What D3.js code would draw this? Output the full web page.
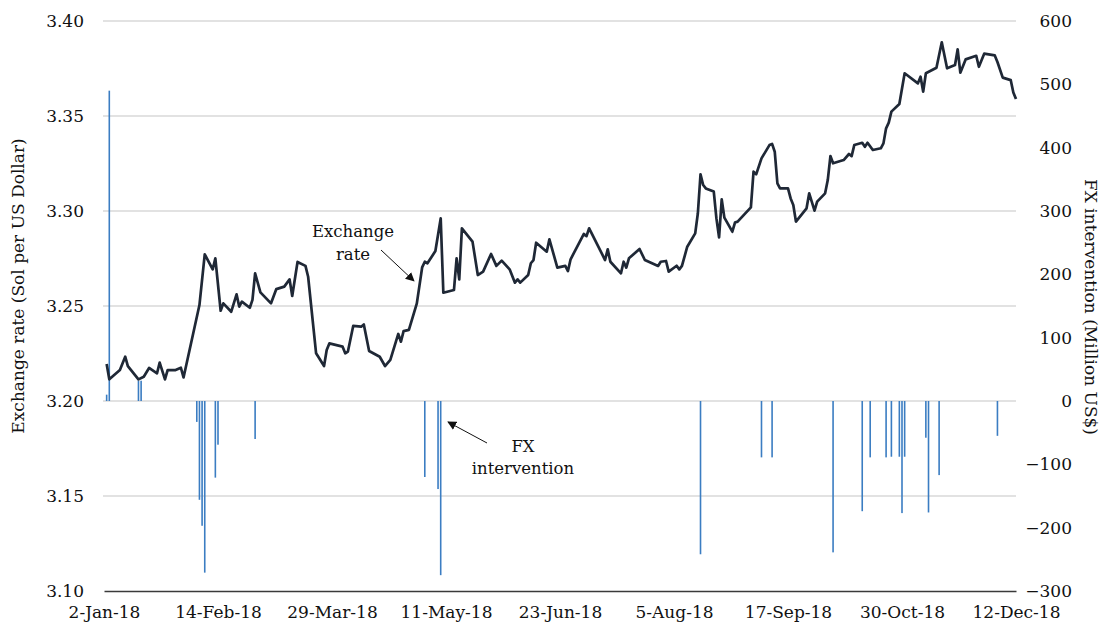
<!DOCTYPE html>
<html>
<head>
<meta charset="utf-8">
<script src="https://cdn.jsdelivr.net/npm/d3@7"></script>
<style>
  body { margin: 0; background: #fff; }
  text { font-family: "DejaVu Serif", serif; fill: #111; }
</style>
</head>
<body>
<div id="chart"></div>
<script>
// exchange rate, sol per US dollar
const rateDates = [
  "2018-01-03","2018-01-04","2018-01-08","2018-01-10","2018-01-11","2018-01-15","2018-01-17","2018-01-19",
  "2018-01-22","2018-01-23","2018-01-25","2018-01-26","2018-01-29","2018-01-31","2018-02-01","2018-02-07",
  "2018-02-09","2018-02-12","2018-02-13","2018-02-15","2018-02-16","2018-02-19","2018-02-21","2018-02-22",
  "2018-02-23","2018-02-26","2018-02-27","2018-02-28","2018-03-02","2018-03-06","2018-03-08","2018-03-11",
  "2018-03-13","2018-03-14","2018-03-16","2018-03-19","2018-03-20","2018-03-23","2018-03-26","2018-03-27",
  "2018-03-28","2018-04-02","2018-04-03","2018-04-04","2018-04-06","2018-04-09","2018-04-10","2018-04-12",
  "2018-04-16","2018-04-18","2018-04-20","2018-04-23","2018-04-24","2018-04-25","2018-04-27","2018-04-30",
  "2018-05-02","2018-05-03","2018-05-04","2018-05-07","2018-05-09","2018-05-10","2018-05-14","2018-05-15",
  "2018-05-16","2018-05-17","2018-05-21","2018-05-23","2018-05-25","2018-05-28","2018-05-30","2018-06-01",
  "2018-06-04","2018-06-06","2018-06-07","2018-06-08","2018-06-11","2018-06-12","2018-06-13","2018-06-14",
  "2018-06-18","2018-06-19","2018-06-22","2018-06-25","2018-06-26","2018-06-27","2018-07-02","2018-07-03",
  "2018-07-04","2018-07-10","2018-07-11","2018-07-12","2018-07-16","2018-07-17","2018-07-18","2018-07-19",
  "2018-07-23","2018-07-25","2018-07-30","2018-07-31","2018-08-02","2018-08-03","2018-08-06","2018-08-07",
  "2018-08-08","2018-08-10","2018-08-13","2018-08-14","2018-08-15","2018-08-16","2018-08-17","2018-08-20",
  "2018-08-21","2018-08-22","2018-08-23","2018-08-24","2018-08-27","2018-08-28","2018-08-29","2018-09-03",
  "2018-09-04","2018-09-05","2018-09-07","2018-09-10","2018-09-11","2018-09-12","2018-09-13","2018-09-14",
  "2018-09-17","2018-09-18","2018-09-19","2018-09-20","2018-09-24","2018-09-25","2018-09-27","2018-09-28",
  "2018-10-01","2018-10-02","2018-10-03","2018-10-04","2018-10-08","2018-10-10","2018-10-11","2018-10-12",
  "2018-10-15","2018-10-16","2018-10-17","2018-10-19","2018-10-22","2018-10-23","2018-10-24","2018-10-25",
  "2018-10-26","2018-10-29","2018-10-31","2018-11-05","2018-11-06","2018-11-07","2018-11-08","2018-11-12",
  "2018-11-14","2018-11-16","2018-11-19","2018-11-20","2018-11-21","2018-11-23","2018-11-27","2018-11-28",
  "2018-11-30","2018-12-04","2018-12-05","2018-12-07","2018-12-10","2018-12-11","2018-12-12"
];
const rateValues = [
  3.2195,3.2114,3.2163,3.2233,3.2184,3.2114,3.2128,3.2174,
  3.2146,3.2202,3.2114,3.2163,3.2163,3.2175,3.2124,3.2505,
  3.2772,3.2693,3.2751,3.2475,3.2514,3.2470,3.2561,3.2497,
  3.2523,3.2491,3.2532,3.2672,3.2572,3.2514,3.2589,3.2602,
  3.2640,3.2553,3.2732,3.2711,3.2654,3.2251,3.2184,3.2268,
  3.2303,3.2286,3.2251,3.2260,3.2395,3.2391,3.2403,3.2263,
  3.2233,3.2184,3.2216,3.2353,3.2312,3.2368,3.2374,3.2514,
  3.2703,3.2733,3.2725,3.2789,3.2961,3.2570,3.2584,3.2751,
  3.2640,3.2909,3.2839,3.2663,3.2681,3.2774,3.2711,3.2739,
  3.2693,3.2623,3.2640,3.2623,3.2663,3.2725,3.2742,3.2833,
  3.2786,3.2851,3.2702,3.2711,3.2684,3.2746,3.2879,3.2868,
  3.2909,3.2742,3.2798,3.2733,3.2672,3.2733,3.2702,3.2751,
  3.2800,3.2742,3.2711,3.2733,3.2737,3.2681,3.2712,3.2693,
  3.2711,3.2812,3.2882,3.2988,3.3193,3.3137,3.3119,3.3102,
  3.2961,3.2861,3.3061,3.2965,3.2891,3.2939,3.2944,3.3019,
  3.3207,3.3193,3.3277,3.3347,3.3353,3.3312,3.3146,3.3119,
  3.3119,3.3066,3.3032,3.2944,3.3014,3.3093,3.3002,3.3049,
  3.3093,3.3163,3.3289,3.3251,3.3268,3.3300,3.3289,3.3347,
  3.3359,3.3338,3.3359,3.3321,3.3330,3.3356,3.3435,3.3465,
  3.3523,3.3563,3.3725,3.3672,3.3707,3.3628,3.3725,3.3754,
  3.3888,3.3751,3.3768,3.3851,3.3728,3.3798,3.3817,3.3759,
  3.3828,3.3819,3.3784,3.3702,3.3689,3.3624,3.3589
];

// FX intervention, million US$
const fxDates = [
  "2018-01-03","2018-01-04","2018-01-15","2018-01-16","2018-02-06","2018-02-07","2018-02-08","2018-02-09",
  "2018-02-13","2018-02-14","2018-02-28","2018-05-03","2018-05-08","2018-05-09","2018-08-15","2018-09-07",
  "2018-09-11","2018-10-04","2018-10-15","2018-10-18","2018-10-24","2018-10-26","2018-10-29","2018-10-30",
  "2018-10-31","2018-11-08","2018-11-09","2018-11-13","2018-12-05"
];
const fxValues = [
  10,490,32,32,-33,-156,-197,-271,
  -121,-69,-60,-120,-139,-275,-242,-89,
  -89,-239,-174,-89,-89,-88,-88,-177,
  -88,-58,-176,-117,-55
];

const xTickDates = ["2018-01-02","2018-02-14","2018-03-29","2018-05-11","2018-06-23","2018-08-05","2018-09-17","2018-10-30","2018-12-12"];
const leftTicks = [3.10, 3.15, 3.20, 3.25, 3.30, 3.35, 3.40];
const rightTicks = [-300, -200, -100, 0, 100, 200, 300, 400, 500, 600];

const width = 1102, height = 623;
const margin = { top: 21, right: 86, bottom: 32, left: 104 };
const parse = d3.timeParse("%Y-%m-%d");

const rate = rateDates.map((d, i) => ({ date: parse(d), v: rateValues[i] }));
const fx = fxDates.map((d, i) => ({ date: parse(d), v: fxValues[i] }));

const svg = d3.select("#chart").append("svg")
  .attr("width", width)
  .attr("height", height);

const x = d3.scaleTime()
  .domain([parse(xTickDates[0]), parse(xTickDates[xTickDates.length - 1])])
  .range([margin.left, width - margin.right]);

const yLeft = d3.scaleLinear()
  .domain([3.10, 3.40])
  .range([height - margin.bottom, margin.top]);

const yRight = d3.scaleLinear()
  .domain([-300, 600])
  .range([height - margin.bottom, margin.top]);

// gridlines
svg.append("g")
  .selectAll("line")
  .data(leftTicks.slice(1))
  .join("line")
  .attr("x1", margin.left - 1)
  .attr("x2", width - margin.right)
  .attr("y1", d => yLeft(d))
  .attr("y2", d => yLeft(d))
  .attr("stroke", "#d9d9d9")
  .attr("stroke-width", 1.3);

// intervention bars
svg.append("g")
  .selectAll("rect")
  .data(fx)
  .join("rect")
  .attr("x", d => x(d.date) - 0.8)
  .attr("width", 1.6)
  .attr("y", d => yRight(Math.max(0, d.v)))
  .attr("height", d => Math.abs(yRight(d.v) - yRight(0)))
  .attr("fill", "#3b7dc2");

// exchange rate line
const line = d3.line()
  .x(d => x(d.date))
  .y(d => yLeft(d.v));

svg.append("path")
  .datum(rate)
  .attr("d", line)
  .attr("fill", "none")
  .attr("stroke", "#1f2836")
  .attr("stroke-width", 2.7)
  .attr("stroke-linejoin", "round");

// axes
const fontSize = "17px";

const gLeft = svg.append("g")
  .attr("transform", "translate(" + margin.left + ",0)")
  .call(d3.axisLeft(yLeft).tickValues(leftTicks).tickFormat(d3.format(".2f")).tickSize(0).tickPadding(20));
gLeft.select(".domain").remove();
gLeft.selectAll("text").style("font-size", fontSize).attr("fill", "#111");

const gRight = svg.append("g")
  .attr("transform", "translate(" + (width - margin.right) + ",0)")
  .call(d3.axisRight(yRight).tickValues(rightTicks).tickSize(0));
gRight.select(".domain").remove();
gRight.selectAll("text")
  .style("font-size", fontSize)
  .attr("fill", "#111")
  .attr("text-anchor", "end")
  .attr("x", 56);

const gBottom = svg.append("g")
  .attr("transform", "translate(0," + (height - margin.bottom) + ")")
  .call(d3.axisBottom(x).tickValues(xTickDates.map(parse)).tickFormat(d3.timeFormat("%-d-%b-%y")).tickSize(0).tickPadding(15));
gBottom.select(".domain").attr("stroke", "#3a3a3a").attr("stroke-width", 1.3);
gBottom.selectAll("text").style("font-size", fontSize).attr("fill", "#111");

// axis titles
svg.append("text")
  .attr("transform", "translate(24," + 286 + ") rotate(-90)")
  .attr("text-anchor", "middle")
  .style("font-size", fontSize)
  .text("Exchange rate (Sol per US Dollar)");

svg.append("text")
  .attr("transform", "translate(1085," + 307 + ") rotate(90)")
  .attr("text-anchor", "middle")
  .style("font-size", fontSize)
  .text("FX intervention (Million US$)");

// annotations
svg.append("defs").append("marker")
  .attr("id", "arrow")
  .attr("viewBox", "0 0 10 10")
  .attr("refX", 9)
  .attr("refY", 5)
  .attr("markerWidth", 9)
  .attr("markerHeight", 9)
  .attr("markerUnits", "userSpaceOnUse")
  .attr("orient", "auto")
  .append("path")
  .attr("d", "M0,0L10,5L0,10z")
  .attr("fill", "#111");

const note1 = svg.append("text")
  .attr("text-anchor", "middle")
  .style("font-size", "16.5px");
note1.append("tspan").attr("x", 353).attr("y", 237).text("Exchange");
note1.append("tspan").attr("x", 353).attr("y", 260).text("rate");

svg.append("line")
  .attr("x1", 381).attr("y1", 250)
  .attr("x2", 414).attr("y2", 281)
  .attr("stroke", "#111")
  .attr("stroke-width", 1)
  .attr("marker-end", "url(#arrow)");

const note2 = svg.append("text")
  .attr("text-anchor", "middle")
  .style("font-size", "16.5px");
note2.append("tspan").attr("x", 523).attr("y", 452).text("FX");
note2.append("tspan").attr("x", 523).attr("y", 474).text("intervention");

svg.append("line")
  .attr("x1", 487).attr("y1", 443)
  .attr("x2", 448).attr("y2", 422)
  .attr("stroke", "#111")
  .attr("stroke-width", 1)
  .attr("marker-end", "url(#arrow)");
</script>
</body>
</html>
